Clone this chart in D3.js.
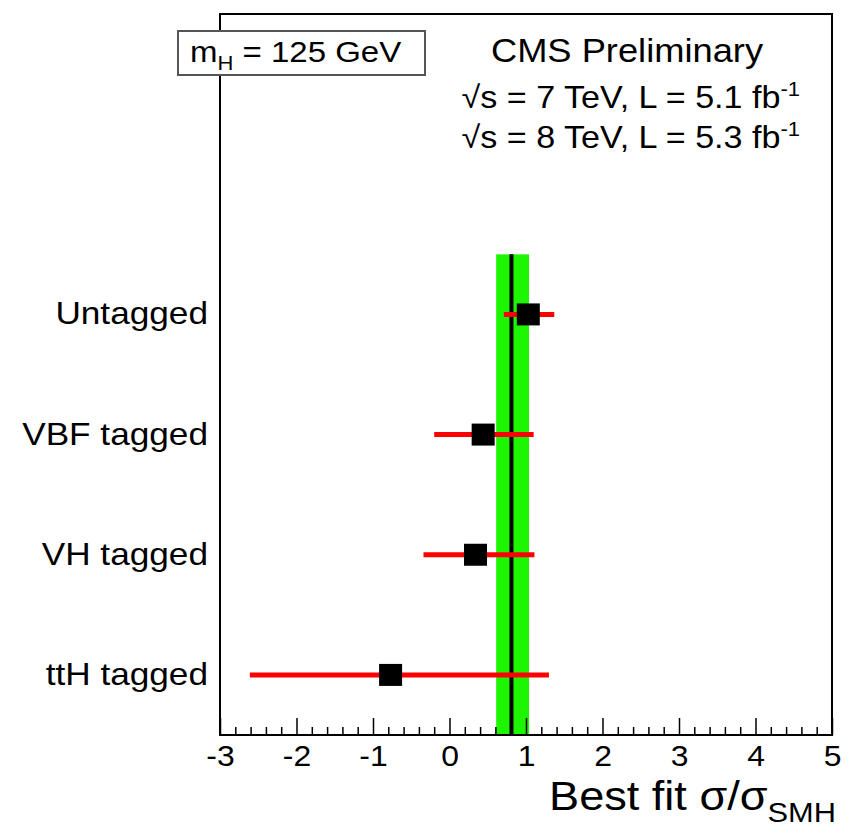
<!DOCTYPE html>
<html>
<head>
<meta charset="utf-8">
<script src="https://cdn.jsdelivr.net/npm/d3@7"></script>
<style>
  body { margin: 0; background: #fff; }
  text { font-family: "Liberation Sans", Arial, sans-serif; fill: #000; }
</style>
</head>
<body>
<div class="usable"></div>
<script>
// valores
const categories = ["Untagged", "VBF tagged", "VH tagged", "ttH tagged"];
const rowPos = [3.5, 2.5, 1.5, 0.5];
const bestFit = [1.03, 0.44, 0.34, -0.77];
const errLow = [0.71, -0.20, -0.34, -2.61];
const errHigh = [1.37, 1.10, 1.11, 1.30];
const combined = [0.61, 0.81, 1.04]; // low, central, high
const majorTicks = [-3, -2, -1, 0, 1, 2, 3, 4, 5];
const minorTicks = d3.range(-3, 5.001, 0.2).map(d => +d.toFixed(1)).filter(d => !Number.isInteger(d));

const width = 854, height = 829;
const stretch = 1.1; // el texto de ROOT sale algo mas ancho

let svg = d3.select(".usable").append("svg")
    .attr("width", width)
    .attr("height", height);

let x = d3.scaleLinear().domain([-3, 5]).range([220, 832]);
let y = d3.scaleLinear().domain([0, 6]).range([735, 14]);

function addText(px, py, anchor, size) {
    return svg.append("text")
        .attr("transform", "translate(" + px + "," + py + ") scale(" + stretch + ",1)")
        .attr("text-anchor", anchor)
        .style("font-size", size + "px");
}

// banda verde del ajuste combinado
svg.append("rect")
    .attr("x", x(combined[0]))
    .attr("y", y(4))
    .attr("width", x(combined[2]) - x(combined[0]))
    .attr("height", y(0) - y(4))
    .attr("fill", "#1ef500");

svg.append("line")
    .attr("x1", x(combined[1])).attr("x2", x(combined[1]))
    .attr("y1", y(4)).attr("y2", y(0))
    .attr("stroke", "#000")
    .attr("stroke-width", 4);

// barras de error
svg.selectAll(".err").data(categories).enter().append("line")
    .attr("class", "err")
    .attr("x1", (d, i) => x(errLow[i]))
    .attr("x2", (d, i) => x(errHigh[i]))
    .attr("y1", (d, i) => y(rowPos[i]))
    .attr("y2", (d, i) => y(rowPos[i]))
    .attr("stroke", "#ff0000")
    .attr("stroke-width", 5);

// puntos
svg.selectAll(".pt").data(categories).enter().append("rect")
    .attr("class", "pt")
    .attr("x", (d, i) => x(bestFit[i]) - 11.5)
    .attr("y", (d, i) => y(rowPos[i]) - 11)
    .attr("width", 23)
    .attr("height", 22)
    .attr("fill", "#000");

// etiquetas de categorias
categories.forEach((c, i) => {
    addText(208, y(rowPos[i]) + 10, "end", 32).text(c);
});

// ejes
let axisG = svg.append("g").attr("transform", "translate(0," + y(0) + ")");
axisG.call(d3.axisBottom(x).tickValues(majorTicks).tickSize(-17).tickPadding(10)
    .tickFormat(d => String(d)));
let minorG = svg.append("g").attr("transform", "translate(0," + y(0) + ")");
minorG.call(d3.axisBottom(x).tickValues(minorTicks).tickSize(-8).tickFormat(""));
[axisG, minorG].forEach(g => {
    g.select(".domain").remove();
    g.selectAll("line").attr("stroke", "#000").attr("stroke-width", 1.5);
});
axisG.selectAll("text")
    .attr("transform", "scale(" + stretch + ",1)")
    .style("font-size", "29px")
    .style("font-family", "Liberation Sans, Arial, sans-serif");

// marco
svg.append("rect")
    .attr("x", x(-3)).attr("y", y(6))
    .attr("width", x(5) - x(-3)).attr("height", y(0) - y(6))
    .attr("fill", "none")
    .attr("stroke", "#000")
    .attr("stroke-width", 2);

// titulo eje x
let xt = addText(836, 810, "end", 41);
xt.append("tspan").text("Best fit σ/σ");
xt.append("tspan").attr("dy", 12).style("font-size", "28px").text("SMH");

// caja mH
svg.append("rect")
    .attr("x", 178).attr("y", 31)
    .attr("width", 247).attr("height", 44)
    .attr("fill", "#fff")
    .attr("stroke", "#555")
    .attr("stroke-width", 2);
let mh = addText(190, 62, "start", 30);
mh.append("tspan").text("m");
mh.append("tspan").attr("dy", 8).style("font-size", "20px").text("H");
mh.append("tspan").attr("dy", -8).text(" = 125 GeV");

// textos CMS
addText(627, 62, "middle", 33).text("CMS Preliminary");

const lumiLines = [["7", "5.1"], ["8", "5.3"]];
lumiLines.forEach((l, i) => {
    let t = addText(800, 108 + i * 40, "end", 31);
    t.append("tspan").text("√s = " + l[0] + " TeV, L = " + l[1] + " fb");
    t.append("tspan").attr("dy", -12).style("font-size", "20px").text("-1");
});
</script>
</body>
</html>
